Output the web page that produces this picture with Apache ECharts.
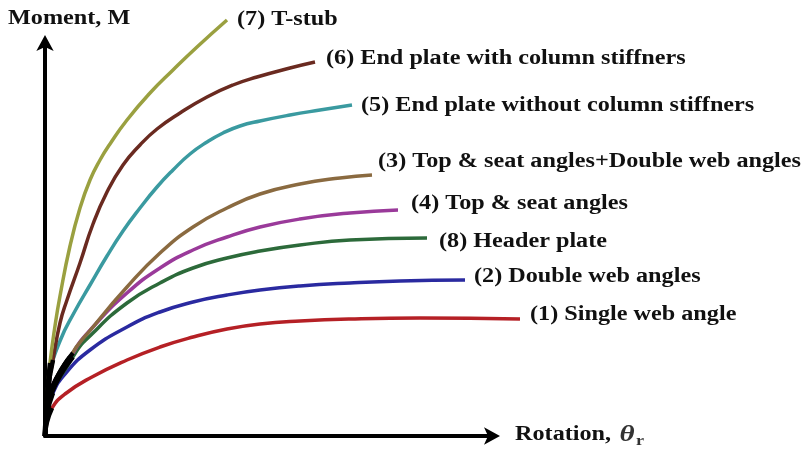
<!DOCTYPE html>
<html>
<head>
<meta charset="utf-8">
<script src="https://cdn.jsdelivr.net/npm/echarts@6/dist/echarts.min.js"></script>
<style>
  html, body { margin: 0; padding: 0; background: #fff; }
  #chart { width: 805px; height: 452px; }
</style>
</head>
<body>
<div id="chart"></div>
<script>
// values, [rotation, moment] in arbitrary units
const singleWebAngle = [[0,0],[2,14],[7,28],[20,42],[47,59],[82,76],[115,89],[148,99],[182,107],[215,112],[255,115],[305,117],[375,118],[475,117]];
const doubleWebAngles = [[0,0],[2,22],[8,43],[20,62],[45,86],[82,109],[115,124],[148,134],[182,141],[215,146],[255,150],[305,153],[355,155],[420,156]];
const headerPlate = [[0,0],[1,21],[28,79],[48,103],[82,133],[115,153],[148,168],[182,178],[215,185],[255,191],[305,196],[382,198]];
const topSeat = [[0,0],[2,30],[28,83],[48,109],[82,143],[115,168],[148,186],[182,199],[215,209],[255,217],[305,223],[353,226]];
const topSeatDouble = [[0,0],[1,24],[25,79],[48,109],[82,149],[115,183],[148,209],[182,228],[215,242],[255,252],[295,258],[327,261]];
const endPlateNoStiff = [[0,0],[2,30],[5,62],[15,95],[30,125],[45,151],[62,180],[78,205],[95,228],[112,249],[128,266],[145,282],[162,294],[178,303],[195,310],[215,315],[245,321],[275,326],[307,331]];
const endPlateStiff = [[0,0],[2,40],[8,76],[15,113],[22,136],[35,173],[48,212],[62,244],[78,271],[95,291],[112,307],[135,323],[162,339],[188,351],[212,359],[245,368],[270,374]];
const tStub = [[0,0],[2,40],[5,73],[10,110],[15,140],[25,190],[35,228],[45,256],[55,276],[65,292],[82,316],[105,343],[128,366],[152,389],[182,416]];

const curveNames = [
  '(1) Single web angle',
  '(2) Double web angles',
  '(8) Header plate',
  '(4) Top & seat angles',
  '(3) Top & seat angles+Double web angles',
  '(5) End plate without column stiffners',
  '(6) End plate with column stiffners',
  '(7) T-stub'
];
const curveData = [singleWebAngle, doubleWebAngles, headerPlate, topSeat, topSeatDouble, endPlateNoStiff, endPlateStiff, tStub];
const curveColors = ['#b52025', '#2a2aa0', '#2c6a3a', '#9a3a9a', '#8a6a40', '#3a9aa0', '#6a2a20', '#9aa040'];
const labelOffsets = [[10, -4], [9, -3], [12, 4], [13, -6], [6, -13], [9, 1], [11, -3], [10, 0]];

const TEXT_SCALE = 1.21;
const chart = echarts.init(document.getElementById('chart'));

const series = [];
curveData.forEach((d, i) => {
  series.push({
    name: curveNames[i],
    type: 'line',
    data: d,
    smooth: true,
    symbol: 'none',
    clip: false,
    lineStyle: { color: curveColors[i], width: 3.5 },
    z: 2
  });
});
// dark blob where the curves leave the origin
curveData.forEach((d) => {
  series.push({
    type: 'line',
    data: d.slice(0, 3),
    smooth: true,
    symbol: 'none',
    clip: false,
    lineStyle: { color: '#000', width: 4.5 },
    z: 3
  });
});

const hiddenAxis = { show: false };
chart.setOption({
  animation: false,
  backgroundColor: '#fff',
  grid: [
    { left: 45, top: 16, width: 480, height: 420 },   // data
    { left: 45, top: 43, width: 447, height: 393 }    // drawn axes with arrows
  ],
  xAxis: [
    { type: 'value', gridIndex: 0, min: 0, max: 480, ...hiddenAxis },
    {
      type: 'value', gridIndex: 1, min: 0, max: 1,
      axisLine: { show: true, lineStyle: { color: '#000', width: 4 }, symbol: ['none', 'arrow'], symbolSize: [13, 16], symbolOffset: [0, 8] },
      axisTick: { show: false }, axisLabel: { show: false }, splitLine: { show: false }
    }
  ],
  yAxis: [
    { type: 'value', gridIndex: 0, min: 0, max: 420, ...hiddenAxis },
    {
      type: 'value', gridIndex: 1, min: 0, max: 1,
      axisLine: { show: true, lineStyle: { color: '#000', width: 4 }, symbol: ['none', 'arrow'], symbolSize: [13, 16], symbolOffset: [0, 8] },
      axisTick: { show: false }, axisLabel: { show: false }, splitLine: { show: false }
    }
  ],
  series: series
});

// curve labels placed at each curve's end, found through the chart's own scale
const labelFont = { fontFamily: 'Liberation Serif', fontWeight: 'bold', fontSize: 20, fill: '#111' };
const graphics = curveData.map((d, i) => {
  const end = chart.convertToPixel({ gridIndex: 0 }, d[d.length - 1]);
  return {
    type: 'text',
    x: end[0] + labelOffsets[i][0],
    y: end[1] + labelOffsets[i][1],
    scaleX: TEXT_SCALE,
    style: Object.assign({ text: curveNames[i], align: 'left', verticalAlign: 'middle' }, labelFont)
  };
});
graphics.push({
  type: 'text', x: 8, y: 19, scaleX: TEXT_SCALE,
  style: Object.assign({ text: 'Moment, M', align: 'left', verticalAlign: 'middle' }, labelFont)
});
graphics.push({
  type: 'text', x: 515, y: 435, scaleX: TEXT_SCALE,
  style: {
    text: '{a|Rotation, }{t|θ}{s|r}',
    align: 'left', verticalAlign: 'middle',
    rich: {
      a: labelFont,
      t: { fontFamily: 'Liberation Serif', fontWeight: 'bold', fontStyle: 'italic', fontSize: 24, fill: '#333', padding: [0, 1, 0, 2] },
      s: { fontFamily: 'Liberation Serif', fontWeight: 'bold', fontSize: 15, fill: '#333', padding: [12, 0, 0, 0] }
    }
  }
});
chart.setOption({ graphic: graphics });
</script>
</body>
</html>
